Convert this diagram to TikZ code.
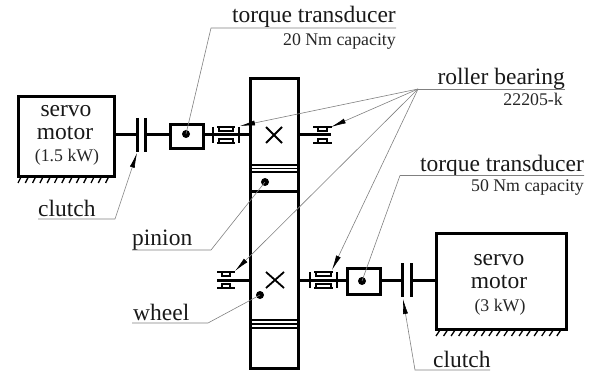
\documentclass[tikz,border=0pt]{standalone}
\usepackage{fontspec}
\setmainfont{Liberation Serif}
\usetikzlibrary{arrows.meta}
\tikzset{
  part/.style={draw=black,line width=2.8pt,fill=white,inner sep=0pt},
  heavyline/.style={line width=3pt,draw=black},
  brg/.style={line width=2pt,draw=black},
  lead/.style={line width=0.6pt,draw=black!50},
  tipped/.style={lead,-{Latex[black,length=15pt,width=5pt]}},
  big/.style={font=\fontsize{23.5}{23.5}\selectfont,inner sep=0pt,text=black!90},
  small/.style={font=\fontsize{17.8}{17.8}\selectfont,inner sep=0pt,text=black!85},
  dotmark/.style={circle,fill=black,minimum size=8pt,inner sep=0pt},
  hatch/.style={line width=1.3pt,draw=black}
}
\newcommand{\bearinghalf}[3]{% x1 x2 y
  \draw[brg] (#1,#3-8) -- (#2,#3-8) (#1,#3+8) -- (#2,#3+8);
  \draw[brg] (#1+5,#3-8) -- (#1+5,#3-4) -- (#2-5,#3-4) -- (#2-5,#3-8);
  \draw[brg] (#1+5,#3+8) -- (#1+5,#3+4) -- (#2-5,#3+4) -- (#2-5,#3+8);
}
\newcommand{\bearingfull}[3]{% x1 x2 y, with end walls
  \draw[brg] (#1,#3-8) -- (#1,#3+8) (#2,#3-8) -- (#2,#3+8);
  \draw[brg] (#1+4,#3-8) -- (#2-4,#3-8) (#1+4,#3+8) -- (#2-4,#3+8);
  \draw[brg] (#1+6,#3-8) -- (#1+6,#3-4) -- (#2-6,#3-4) -- (#2-6,#3-8);
  \draw[brg] (#1+6,#3+8) -- (#1+6,#3+4) -- (#2-6,#3+4) -- (#2-6,#3+8);
}
\begin{document}
\begin{tikzpicture}[x=1pt,y=-1pt]
\useasboundingbox (0,0) rectangle (596,371);
% gear box
\draw[heavyline] (250,79) rectangle (298,368);
\draw[heavyline] (250,192) -- (298,192);
\foreach \yy in {165,168.5,172,320,324,328} \draw[line width=1.2pt] (250,\yy) -- (298,\yy);
\draw[line width=1.8pt] (266,127) -- (282,143) (266,143) -- (282,127);
\draw[line width=1.8pt] (266,272) -- (284,288) (266,288) -- (284,272);
% motors
\node[part,minimum width=96pt,minimum height=80pt,anchor=north west] (m1) at (17,95) {};
\node[part,minimum width=130pt,minimum height=96pt,anchor=north west] (m2) at (435,232) {};
\foreach \i in {0,...,12} \draw[hatch] (21+\i*7.3,177) -- (18+\i*7.3,183);
\foreach \i in {0,...,16} \draw[hatch] (440+\i*7.55,330) -- (436+\i*7.55,336);
% clutches
\coordinate (c1a) at (137,118); \coordinate (c1b) at (137,152);
\coordinate (c2a) at (145,118); \coordinate (c2b) at (145,152);
\coordinate (c3a) at (402,263); \coordinate (c3b) at (402,297);
\coordinate (c4a) at (411,263); \coordinate (c4b) at (411,297);
\draw[heavyline] (c1a) -- (c1b) (c2a) -- (c2b) (c3a) -- (c3b) (c4a) -- (c4b);
% transducers
\node[part,minimum width=33pt,minimum height=24pt,anchor=north west] (t1) at (169,123) {};
\node[part,minimum width=33pt,minimum height=26pt,anchor=north west] (t2) at (346,267) {};
% shafts
\draw[heavyline] (m1.east |- 0,135) -- (137,135) (145,135) -- (t1.west |- 0,135);
\draw[heavyline] (t1.east |- 0,135) -- (250,135) (298,135) -- (331,135);
\draw[heavyline] (217,280) -- (250,280) (298,280) -- (t2.west |- 0,280);
\draw[heavyline] (t2.east |- 0,280) -- (402,280) (411,280) -- (m2.west |- 0,280);
% bearings
\bearingfull{213}{239}{135}
\bearinghalf{313}{332}{135}
\bearinghalf{217}{235}{280}
\bearingfull{310}{337}{280}
% dots
\node[dotmark] (d1) at (186,134) {};
\node[dotmark] (d2) at (362,281) {};
\node[dotmark] (d3) at (265,182) {};
\node[dotmark] (d4) at (260,295) {};
% text
\node[big,anchor=base] (s1) at (66,117) {servo};
\node[big,anchor=base] (s2) at (65,140) {motor};
\node[small,anchor=base] (s3) at (67,162) {(1.5 kW)};
\node[big,anchor=base] (s4) at (499,265) {servo};
\node[big,anchor=base] (s5) at (499,288) {motor};
\node[small,anchor=base] (s6) at (500,311) {(3 kW)};
\node[big,anchor=base east] (tt1) at (396,23) {torque transducer};
\node[small,anchor=base east] (tc1) at (396,46) {20 Nm capacity};
\node[big,anchor=base east] (rb) at (565,85) {roller bearing};
\node[small,anchor=base east] (rbn) at (563,106) {22205-k};
\node[big,anchor=base east] (tt2) at (584,172) {torque transducer};
\node[small,anchor=base east] (tc2) at (584,192) {50 Nm capacity};
\node[big,anchor=base west] (cl1) at (38,217) {clutch};
\node[big,anchor=base west] (pin) at (132,245) {pinion};
\node[big,anchor=base west] (wh) at (133,320) {wheel};
\node[big,anchor=base west] (cl2) at (433,367) {clutch};
% leaders
\coordinate (hub) at (418,89);
\coordinate (b1) at (240,126); \coordinate (b2) at (331,127);
\coordinate (b3) at (235,271); \coordinate (b4) at (332,270);
\draw[lead] (396,28) -- (211,28) -- (d1.center);
\draw[lead] (565,89) -- (hub);
\draw[tipped] (hub) -- (b1);
\draw[tipped] (hub) -- (b2);
\draw[tipped] (hub) -- (b3);
\draw[tipped] (hub) -- (b4);
\draw[lead] (584,175.5) -- (400,175.5) -- (d2.center);
\draw[lead] (132,250) -- (211,250) -- (d3.center);
\draw[lead] (132,323) -- (208,323) -- (d4.center);
\draw[tipped] (38,219) -- (115,219) -- (137,153);
\draw[tipped] (490,370) -- (415,370) -- (403,299);
\end{tikzpicture}
\end{document}
